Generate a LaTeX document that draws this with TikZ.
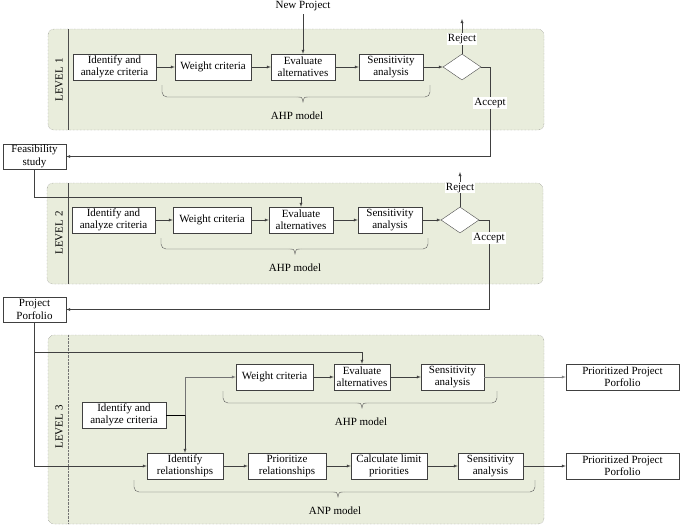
\documentclass[tikz,border=0pt]{standalone}
\usepackage{fontspec}
\setmainfont{Liberation Serif}
\usetikzlibrary{shapes.geometric}

\definecolor{panelgreen}{HTML}{E9EDDC}

\begin{document}
\begin{tikzpicture}[x=1pt,y=-1pt,
    box/.style={draw=black!75,fill=white,align=center,inner sep=1pt,minimum height=26pt,font=\fontsize{11}{12.3}\selectfont},
    decide/.style={draw=black!70,fill=white,diamond,aspect=1.46,inner sep=0pt,minimum width=38pt,minimum height=26pt},
    panel/.style={draw=black!55,densely dotted,fill=panelgreen,rounded corners=6pt},
    arr/.style={draw=black!75,-latex},
    lbl/.style={fill=white,inner sep=1pt,font=\fontsize{11}{12}\selectfont},
    txt/.style={font=\fontsize{11}{12}\selectfont},
    brc/.style={draw=black!65}]
  \useasboundingbox (0,0) rectangle (681,531);

  % panels
  \draw[panel] (48,29) rectangle (544,130);
  \draw[black!70] (68,29) -- (68,130);
  \node[txt,rotate=90] (lev1) at (59,80) {LEVEL 1};
  \draw[panel] (47,183) rectangle (543,284);
  \draw[black!70] (68,183) -- (68,284);
  \node[txt,rotate=90] (lev2) at (59,233) {LEVEL 2};
  \draw[panel] (48,335) rectangle (544,524);
  \draw[black!55,densely dotted] (68,335) -- (68,524);
  \node[txt,rotate=90] (lev3) at (59,427) {LEVEL 3};

  % level 1
  \node[txt] (newproj) at (303,6) {New Project};
  \node[box,minimum width=83pt] (crit1) at (114.5,67) {Identify and\\analyze criteria};
  \node[box,minimum width=76pt] (wgt1) at (213,67) {Weight criteria};
  \node[box,minimum width=64pt] (eval1) at (303,67) {Evaluate\\alternatives};
  \node[box,minimum width=64pt] (sens1) at (391,67) {Sensitivity\\analysis};
  \node[decide] (dec1) at (462,67) {};
  \coordinate (rej1) at (462,19);
  \coordinate (acc1) at (490,156.5);
  \node[box,minimum width=63pt,minimum height=25pt] (feas) at (34.5,156.5) {Feasibility\\study};

  \draw[arr] (newproj) -- (eval1.north);
  \draw[arr] (crit1) -- (wgt1);
  \draw[arr] (wgt1) -- (eval1);
  \draw[arr] (eval1) -- (sens1);
  \draw[arr] (sens1) -- (dec1);
  \draw[arr] (dec1.north) -- (rej1) node[lbl,pos=0.43] {Reject};
  \draw[arr] (dec1.east) -| (acc1) node[lbl,pos=0.7] {Accept} -- (feas.east);

  \draw[brc,rounded corners=5pt] (162,85) |- (297,97);
  \draw[brc] (297,97) .. controls (302,97) .. (303,102) .. controls (304,97) .. (309,97);
  \draw[brc,rounded corners=5pt] (309,97) -| (430,85);
  \node[txt] (ahp1) at (297,116) {AHP model};

  % level 2
  \node[box,minimum width=83pt] (crit2) at (113.5,220) {Identify and\\analyze criteria};
  \node[box,minimum width=78pt] (wgt2) at (212,220) {Weight criteria};
  \node[box,minimum width=64pt] (eval2) at (301,220) {Evaluate\\alternatives};
  \node[box,minimum width=64pt] (sens2) at (390,220) {Sensitivity\\analysis};
  \node[decide] (dec2) at (460,220) {};
  \coordinate (rej2) at (460,172);
  \coordinate (acc2) at (489,309.5);
  \node[box,minimum width=63pt,minimum height=25pt] (port) at (34.5,309.5) {Project\\Porfolio};

  \draw[arr] (feas.south) |- (301,197) -- (eval2.north);
  \draw[arr] (crit2) -- (wgt2);
  \draw[arr] (wgt2) -- (eval2);
  \draw[arr] (eval2) -- (sens2);
  \draw[arr] (sens2) -- (dec2);
  \draw[arr] (dec2.north) -- (rej2) node[lbl,pos=0.55] {Reject};
  \draw[arr] (dec2.east) -| (acc2) node[lbl,pos=0.6] {Accept} -- (port.east);

  \draw[brc,rounded corners=5pt] (161,238) |- (289,249);
  \draw[brc] (289,249) .. controls (294,249) .. (295,254) .. controls (296,249) .. (301,249);
  \draw[brc,rounded corners=5pt] (301,249) -| (428,238);
  \node[txt] (ahp2) at (295,268) {AHP model};

  % level 3
  \node[box,minimum width=84pt] (crit3) at (124,415) {Identify and\\analyze criteria};
  \node[box,minimum width=77pt] (wgt3) at (274.5,377) {Weight criteria};
  \node[box,minimum width=56pt] (eval3) at (362,377) {Evaluate\\alternatives};
  \node[box,minimum width=63pt] (sens3a) at (452.5,377) {Sensitivity\\analysis};
  \node[box,minimum width=113pt] (prio3a) at (622.5,377) {Prioritized Project\\Porfolio};
  \node[box,minimum width=76pt] (idrel) at (185,466) {Identify\\relationships};
  \node[box,minimum width=78pt] (prrel) at (287,466) {Prioritize\\relationships};
  \node[box,minimum width=76pt] (calc) at (389,466) {Calculate limit\\priorities};
  \node[box,minimum width=65pt] (sens3b) at (490.5,466) {Sensitivity\\analysis};
  \node[box,minimum width=113pt] (prio3b) at (622.5,466) {Prioritized Project\\Porfolio};
  \coordinate (split) at (185,415);
  \coordinate (branch) at (34.5,352);

  \draw[arr] (port.south) |- (idrel.west);
  \draw[arr] (branch) -| (eval3.north);
  \draw (crit3.east) -- (split);
  \draw[arr,black!55] (split) |- (wgt3.west);
  \draw[arr] (split) -- (idrel.north);
  \draw[arr] (wgt3) -- (eval3);
  \draw[arr] (eval3) -- (sens3a);
  \draw[arr,black!50] (sens3a) -- (prio3a);
  \draw[arr] (idrel) -- (prrel);
  \draw[arr] (prrel) -- (calc);
  \draw[arr] (calc) -- (sens3b);
  \draw[arr] (sens3b) -- (prio3b);

  \draw[brc,rounded corners=5pt] (223,391) |- (356,403);
  \draw[brc] (356,403) .. controls (361,403) .. (362,408) .. controls (363,403) .. (368,403);
  \draw[brc,rounded corners=5pt] (368,403) -| (497,391);
  \node[txt] (ahp3) at (361,422) {AHP model};

  \draw[brc,rounded corners=5pt] (134,480) |- (332,492);
  \draw[brc] (332,492) .. controls (337,492) .. (338,497) .. controls (339,492) .. (344,492);
  \draw[brc,rounded corners=5pt] (344,492) -| (535,480);
  \node[txt] (anp3) at (335,511) {ANP model};
\end{tikzpicture}
\end{document}
